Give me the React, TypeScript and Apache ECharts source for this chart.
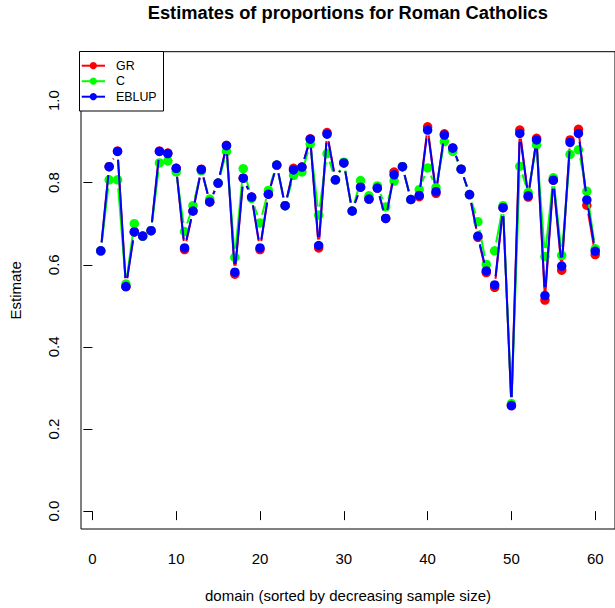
import React, { useEffect, useRef } from "react";
import * as echarts from "echarts";

const DOMAINS: number[] = Array.from({ length: 60 }, (_, i) => i + 1);

const GR: number[] = [
  0.634, 0.839, 0.877, 0.547, 0.68, 0.67, 0.683, 0.877, 0.872, 0.835,
  0.637, 0.731, 0.833, 0.753, 0.799, 0.891, 0.577, 0.811, 0.765, 0.637,
  0.772, 0.843, 0.744, 0.835, 0.838, 0.907, 0.641, 0.922, 0.807, 0.848,
  0.731, 0.789, 0.76, 0.787, 0.713, 0.826, 0.839, 0.759, 0.766, 0.936,
  0.774, 0.919, 0.885, 0.833, 0.771, 0.667, 0.581, 0.545, 0.739, 0.257,
  0.928, 0.765, 0.908, 0.514, 0.806, 0.587, 0.904, 0.93, 0.745, 0.625,
];

const C: number[] = [
  0.634, 0.807, 0.807, 0.553, 0.7, 0.67, 0.683, 0.848, 0.853, 0.826,
  0.681, 0.744, 0.829, 0.76, 0.799, 0.876, 0.618, 0.834, 0.762, 0.702,
  0.781, 0.843, 0.744, 0.818, 0.826, 0.894, 0.721, 0.871, 0.807, 0.85,
  0.731, 0.805, 0.768, 0.792, 0.741, 0.804, 0.839, 0.759, 0.783, 0.836,
  0.788, 0.9, 0.876, 0.833, 0.771, 0.705, 0.601, 0.634, 0.744, 0.262,
  0.84, 0.776, 0.892, 0.62, 0.812, 0.623, 0.869, 0.88, 0.779, 0.639,
];

const EBLUP: number[] = [
  0.634, 0.839, 0.876, 0.547, 0.68, 0.67, 0.683, 0.876, 0.871, 0.835,
  0.641, 0.731, 0.832, 0.753, 0.799, 0.89, 0.582, 0.811, 0.765, 0.641,
  0.772, 0.843, 0.744, 0.831, 0.838, 0.906, 0.647, 0.918, 0.807, 0.848,
  0.731, 0.789, 0.76, 0.787, 0.713, 0.819, 0.839, 0.759, 0.769, 0.928,
  0.778, 0.916, 0.884, 0.833, 0.771, 0.67, 0.585, 0.551, 0.739, 0.257,
  0.92, 0.768, 0.904, 0.525, 0.806, 0.597, 0.898, 0.92, 0.758, 0.633,
];

const SERIES_NAMES = ["GR", "C", "EBLUP"];
const SERIES_COLORS = ["#ff0000", "#00ff00", "#0000ff"];
const X_TICKS: number[] = [0, 10, 20, 30, 40, 50, 60];
const Y_TICKS: number[] = [0, 0.2, 0.4, 0.6, 0.8, 1.0];

const TITLE = "Estimates of proportions for Roman Catholics";
const X_NAME = "domain (sorted by decreasing sample size)";
const Y_NAME = "Estimate";

const FONT = "'Liberation Sans', Arial, Helvetica, sans-serif";
const GAP = 8.5;

function segRender(color: string) {
  return (_params: any, api: any) => {
    const a = api.coord([api.value(0), api.value(1)]);
    const b = api.coord([api.value(2), api.value(3)]);
    const dx = b[0] - a[0];
    const dy = b[1] - a[1];
    const len = Math.sqrt(dx * dx + dy * dy);
    if (len <= 2 * GAP) return null;
    const ux = dx / len;
    const uy = dy / len;
    return {
      type: "line",
      shape: {
        x1: a[0] + ux * GAP,
        y1: a[1] + uy * GAP,
        x2: b[0] - ux * GAP,
        y2: b[1] - uy * GAP,
      },
      style: { stroke: color, lineWidth: 2 },
    };
  };
}

export default function App() {
  const ref = useRef<HTMLDivElement>(null);

  useEffect(() => {
    document.body.style.margin = "0";
    if (!ref.current) return;
    const chart = echarts.init(ref.current, undefined, { renderer: "svg" });

    const values = [GR, C, EBLUP];
    const series: any[] = [];
    values.forEach((vals, k) => {
      const segs = vals.slice(0, -1).map((v, i) => [DOMAINS[i], v, DOMAINS[i + 1], vals[i + 1]]);
      series.push({
        type: "custom",
        name: SERIES_NAMES[k] + "-lines",
        data: segs,
        renderItem: segRender(SERIES_COLORS[k]),
        z: 2 + k * 2,
        silent: true,
      });
      series.push({
        type: "scatter",
        name: SERIES_NAMES[k],
        data: vals.map((v, i) => [DOMAINS[i], v]),
        symbol: "circle",
        symbolSize: 9.5,
        itemStyle: { color: SERIES_COLORS[k], opacity: 1 },
        z: 3 + k * 2,
        silent: true,
      });
    });

    const graphics: any[] = [
      {
        type: "text",
        x: 347.8,
        y: 3,
        style: {
          text: TITLE,
          fontSize: 18.3,
          fontWeight: "bold",
          fontFamily: FONT,
          fill: "#000",
          align: "center",
          verticalAlign: "top",
        },
        z: 100,
      },
      {
        type: "rect",
        shape: { x: 79.5, y: 51.5, width: 84, height: 59.5 },
        style: { fill: "#fff", stroke: "#000", lineWidth: 1 },
        z: 100,
      },
    ];
    SERIES_NAMES.forEach((name, k) => {
      const y = 65.7 + 15.5 * k;
      graphics.push({
        type: "line",
        shape: { x1: 81.7, y1: y, x2: 105, y2: y },
        style: { stroke: SERIES_COLORS[k], lineWidth: 2 },
        z: 101,
      });
      graphics.push({
        type: "circle",
        shape: { cx: 93.3, cy: y, r: 3.6 },
        style: { fill: SERIES_COLORS[k] },
        z: 102,
      });
      graphics.push({
        type: "text",
        x: 116,
        y: y,
        style: {
          text: name,
          fontSize: 12.4,
          fontFamily: FONT,
          fill: "#000",
          verticalAlign: "middle",
          align: "left",
        },
        z: 102,
      });
    });

    chart.setOption({
      animation: false,
      backgroundColor: "#fff",
      grid: {
        left: 79,
        top: 51.7,
        width: 537.6,
        height: 481.3,
        show: true,
        borderColor: "#000",
        borderWidth: 1,
        backgroundColor: "transparent",
        containLabel: false,
      },
      xAxis: {
        type: "value",
        min: -1.36,
        max: 62.36,
        name: X_NAME,
        nameLocation: "middle",
        nameGap: 59,
        nameTextStyle: { fontSize: 15, fontFamily: FONT, color: "#000" },
        axisLine: { show: false },
        axisTick: {
          show: true,
          length: 9,
          inside: false,
          customValues: X_TICKS,
          lineStyle: { color: "#000", width: 1 },
        },
        axisLabel: {
          show: true,
          customValues: X_TICKS,
          margin: 22,
          fontSize: 15,
          fontFamily: FONT,
          color: "#000",
          formatter: (v: number) => String(v),
        },
        splitLine: { show: false },
      },
      yAxis: {
        type: "value",
        min: -0.0435,
        max: 1.119,
        name: Y_NAME,
        nameLocation: "middle",
        nameGap: 58,
        nameRotate: 90,
        nameTextStyle: { fontSize: 15, fontFamily: FONT, color: "#000" },
        axisLine: { show: false },
        axisTick: {
          show: true,
          length: 9,
          inside: false,
          customValues: Y_TICKS,
          lineStyle: { color: "#000", width: 1 },
        },
        axisLabel: {
          show: true,
          customValues: Y_TICKS,
          rotate: 90,
          margin: 20,
          fontSize: 15,
          fontFamily: FONT,
          color: "#000",
          formatter: (v: number) => v.toFixed(1),
        },
        splitLine: { show: false },
      },
      graphic: graphics,
      series,
    });

    return () => {
      chart.dispose();
    };
  }, []);

  return <div ref={ref} style={{ width: 615, height: 608 }} />;
}
